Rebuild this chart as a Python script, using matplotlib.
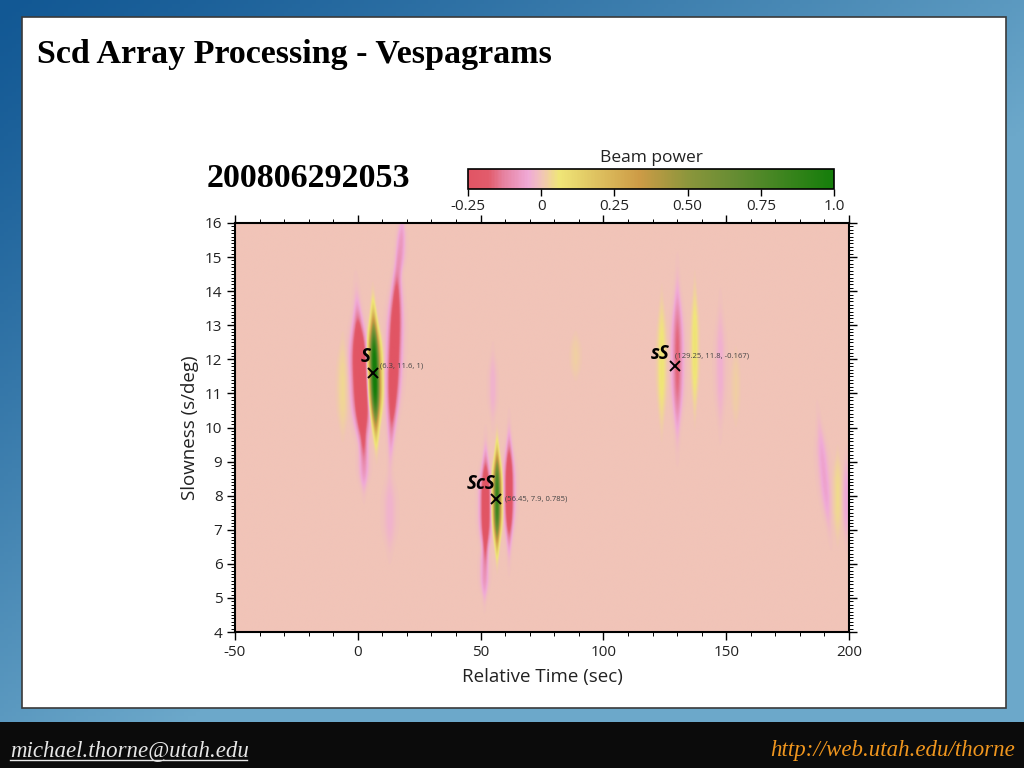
import numpy as np
import matplotlib
matplotlib.use("Agg")
import matplotlib.pyplot as plt
from matplotlib.colors import LinearSegmentedColormap
from matplotlib.ticker import MultipleLocator, FixedLocator
from matplotlib.lines import Line2D
from matplotlib.patches import Rectangle

plt.rcParams["axes.unicode_minus"] = False

# ---------------- data ----------------
slide_title = "Scd Array Processing - Vespagrams"
event_id = "200806292053"
footer_left = "michael.thorne@utah.edu"
footer_right = "http://web.utah.edu/thorne"
x_label = "Relative Time (sec)"
y_label = "Slowness (s/deg)"
cbar_title = "Beam power"

time_range = [-50, 200]
slowness_range = [4, 16]
x_ticks = [-50, 0, 50, 100, 150, 200]
y_ticks = [4, 5, 6, 7, 8, 9, 10, 11, 12, 13, 14, 15, 16]
cbar_ticks = [-0.25, 0.0, 0.25, 0.50, 0.75, 1.0]
cbar_labels = ["-0.25", "0", "0.25", "0.50", "0.75", "1.0"]

# beam-power lobes (centre time, centre slowness, amplitude,
# time half-width, slowness half-width, tilt of lobe in sec per s/deg)
lobe_time = [1.0, 2.4, 6.8, 14.8, 17.6, -6.2, 13.0,
             52.0, 51.6, 56.7, 61.6, 55.0,
             130.2, 123.8, 137.3, 147.7, 154.0,
             190.0, 195.5, 199.0, 88.7]
lobe_slow = [11.4, 9.0, 11.6, 12.2, 15.3, 11.2, 7.5,
             7.7, 5.8, 7.9, 8.1, 11.2,
             12.0, 11.9, 12.3, 11.8, 11.2,
             8.6, 8.0, 7.9, 12.1]
lobe_amp = [-0.44, -0.08, 1.05, -0.34, -0.08, 0.035, -0.03,
            -0.34, -0.09, 0.86, -0.31, -0.03,
            -0.17, 0.07, 0.075, -0.035, 0.02,
            -0.06, 0.04, -0.05, 0.02]
lobe_wt = [2.0, 1.2, 1.45, 1.6, 1.0, 1.5, 1.5,
           1.3, 1.0, 1.05, 1.2, 1.0,
           1.4, 1.2, 1.0, 1.2, 1.2,
           1.3, 1.2, 1.0, 1.5]
lobe_ws = [1.4, 0.6, 1.2, 1.8, 0.6, 1.0, 0.8,
           1.05, 0.6, 1.0, 1.1, 0.7,
           1.45, 1.3, 1.3, 1.2, 0.8,
           1.1, 0.9, 0.8, 0.5]
lobe_tilt = [-0.6, 0.0, -0.3, 0.5, 0.5, 0.0, 0.0,
             0.0, 0.0, 0.0, 0.0, 0.0,
             0.0, 0.0, 0.0, 0.0, 0.0,
             -1.3, 0.0, 0.0, 0.0]

phase_names = ["S", "ScS", "sS"]
phase_time = [6.3, 56.45, 129.25]
phase_slow = [11.6, 7.9, 11.8]
phase_power = ["1", "0.785", "-0.167"]

# colour scale of the beam power
cmap_vals = [-0.25, -0.18, -0.13, -0.045, 0.0, 0.06, 0.165, 0.335, 0.5, 0.67, 1.0]
cmap_cols = ["#E15564", "#E25C6C", "#E682A0", "#F0AAD7", "#F1C4B8", "#F0E678",
             "#E1C864", "#CD9B46", "#8C963C", "#648C32", "#147D0A"]

# ---------------- build field ----------------
t = np.linspace(time_range[0], time_range[1], 1001)
s = np.linspace(slowness_range[0], slowness_range[1], 601)
T, S = np.meshgrid(t, s)
field = np.zeros_like(T)
for t0, s0, a, wt, ws, tl in zip(lobe_time, lobe_slow, lobe_amp, lobe_wt, lobe_ws, lobe_tilt):
    ds = S - s0
    dt = T - (t0 + tl * ds)
    env = np.exp(-0.5 * np.abs(ds / ws) ** 3)
    width = wt * (0.35 + 0.65 * env)
    field += a * env * np.exp(-0.5 * (dt / width) ** 2)

vmin, vmax = cbar_ticks[0], cbar_ticks[-1]
cmap = LinearSegmentedColormap.from_list(
    "beam", [((v - vmin) / (vmax - vmin), c) for v, c in zip(cmap_vals, cmap_cols)])

# ---------------- figure ----------------
W, H = 1024, 768
fig = plt.figure(figsize=(W / 100, H / 100), dpi=100)

# slide background gradient
bg = fig.add_axes([0, 0, 1, 1], zorder=-10)
gx = np.linspace(0, 1, 256)[None, :]
gy = np.linspace(0, 1, 192)[:, None]
u = np.clip(0.85 * gx + 0.9 * gy, 0, 1) ** 1.2
c0 = np.array([18, 88, 148]) / 255.0
c1 = np.array([108, 168, 202]) / 255.0
grad = c0[None, None, :] * (1 - u[..., None]) + c1[None, None, :] * u[..., None]
bg.imshow(grad, extent=[0, 1, 0, 1], aspect="auto", origin="upper")
bg.set_xlim(0, 1)
bg.set_ylim(0, 1)
bg.axis("off")
bg.add_patch(Rectangle((22 / W, 1 - 708 / H), (1006 - 22) / W, (708 - 17) / H,
                       facecolor="white", edgecolor="#3a3a3a", linewidth=1.2))
bg.add_patch(Rectangle((0, 0), 1, 46 / H, facecolor="#0b0b0b", edgecolor="none"))

fig.text(37 / W, 1 - 63 / H, slide_title, fontfamily="Liberation Serif",
         fontweight="bold", fontsize=24.5, va="baseline", ha="left")
fig.text(207 / W, 1 - 187 / H, event_id, fontfamily="Liberation Serif",
         fontweight="bold", fontsize=24.5, va="baseline", ha="left")
fig.text(10 / W, 1 - 756 / H, footer_left, fontfamily="Liberation Serif",
         fontstyle="italic", fontsize=16.5, color="#e6e6e6", va="baseline", ha="left")
fig.add_artist(Line2D([10 / W, 247 / W], [1 - 760 / H, 1 - 760 / H],
                      color="#e6e6e6", linewidth=1.0, transform=fig.transFigure))
fig.text(1015 / W, 1 - 756 / H, footer_right, fontfamily="Liberation Serif",
         fontstyle="italic", fontsize=16.5, color="#f0961e", va="baseline", ha="right")

# main vespagram
ax = fig.add_axes([235 / W, 1 - 632 / H, 614 / W, 409 / H])
im = ax.imshow(field, extent=[time_range[0], time_range[1], slowness_range[0], slowness_range[1]],
               origin="lower", aspect="auto", cmap=cmap, vmin=vmin, vmax=vmax,
               interpolation="bilinear")
ax.set_xlim(time_range)
ax.set_ylim(slowness_range)
ax.xaxis.set_major_locator(FixedLocator(x_ticks))
ax.yaxis.set_major_locator(FixedLocator(y_ticks))
ax.xaxis.set_minor_locator(MultipleLocator(10))
ax.yaxis.set_minor_locator(MultipleLocator(0.1))
ax.tick_params(which="both", direction="out", top=True, right=True,
               labeltop=False, labelright=False, color="black")
ax.tick_params(which="major", length=6, width=1.0, labelsize=11, pad=3)
ax.tick_params(which="minor", length=3, width=0.7)
for lab in ax.get_xticklabels() + ax.get_yticklabels():
    lab.set_fontfamily("Open Sans")
    lab.set_color("#222222")
for sp in ax.spines.values():
    sp.set_linewidth(1.5)
ax.set_xlabel(x_label, fontfamily="Open Sans", fontsize=13.5, color="#222222", labelpad=6)
ax.set_ylabel(y_label, fontfamily="Open Sans", fontsize=13.5, color="#222222", labelpad=4)

label_offsets = [(-2, 11.5), (-1, 11), (-4, 9)]
text_offsets = [(5, 5), (6, 0), (0, 7)]
for name, pt, ps, pw, lo, to in zip(phase_names, phase_time, phase_slow, phase_power,
                                    label_offsets, text_offsets):
    ax.plot([pt], [ps], marker="x", color="black", markersize=6.5, markeredgewidth=1.4)
    ax.annotate(name, (pt, ps), xytext=lo, textcoords="offset points", ha="right",
                va="center", fontsize=13.5, fontweight="bold", fontstyle="italic",
                fontfamily="Open Sans", color="black")
    ax.annotate(f"({pt:g}, {ps:g}, {pw})", (pt, ps), xytext=to, textcoords="offset points",
                ha="left", va="center", fontsize=5.5, fontfamily="Open Sans", color="#444444")

# colour bar
cax = fig.add_axes([468 / W, 1 - 189 / H, 366 / W, 20 / H])
cb = fig.colorbar(im, cax=cax, orientation="horizontal")
cb.set_ticks(cbar_ticks)
cb.set_ticklabels(cbar_labels)
cax.tick_params(direction="out", length=5, width=1.0, labelsize=11, pad=2)
for lab in cax.get_xticklabels():
    lab.set_fontfamily("Open Sans")
    lab.set_color("#222222")
cb.outline.set_linewidth(1.2)
cax.set_title(cbar_title, fontfamily="Open Sans", fontsize=12.5, color="#222222", pad=5)

fig.savefig("out.png", dpi=100)
